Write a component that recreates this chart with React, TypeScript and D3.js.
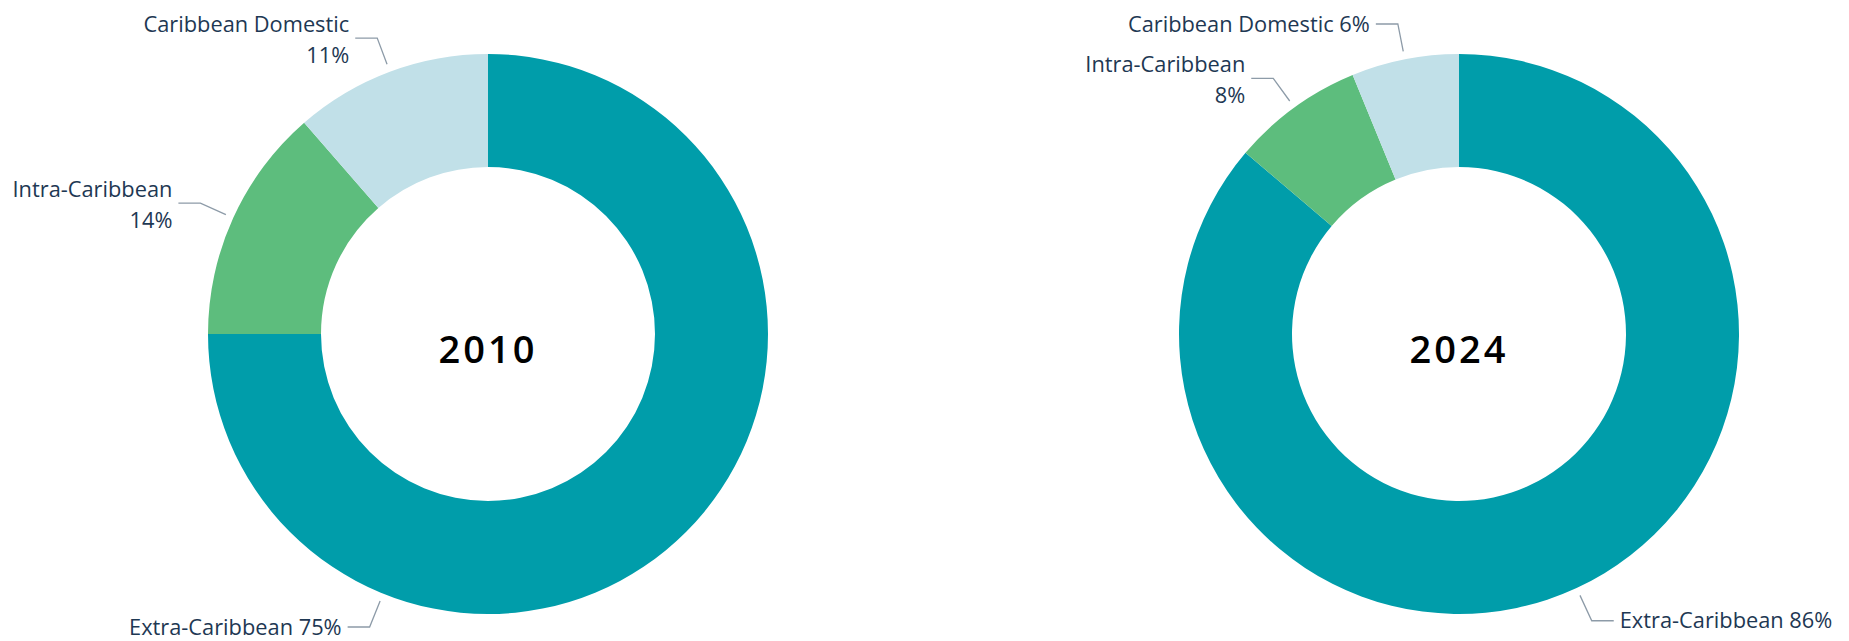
import React from "react";
import * as d3 from "d3";

const categories = ["Extra-Caribbean", "Intra-Caribbean", "Caribbean Domestic"];
const values2010 = [75.0, 13.6, 11.4];
const values2024 = [86.2, 7.6, 6.2];
const labels2010 = ["75%", "14%", "11%"];
const labels2024 = ["86%", "8%", "6%"];
const colors = ["#009DAA", "#5DBD7D", "#C1E0E8"];

// label layout: whether text is on two lines, optional fixed anchor angle (deg clockwise from top)
const layout2010 = [
  { twoLine: false, angle: 202 },
  { twoLine: true, angle: null },
  { twoLine: true, angle: null },
];
const layout2024 = [
  { twoLine: false, angle: null },
  { twoLine: true, angle: null },
  { twoLine: false, angle: null },
];

const W = 1849;
const H = 641;
const R_OUT = 280;
const R_IN = 167;
const FONT = "'Open Sans', 'Noto Sans', sans-serif";
const TEXT_COLOR = "#1E3853";
const LINE_COLOR = "#8D9BA8";

function Donut({ cx, cy, values, pcts, layout, year }) {
  const pie = d3.pie<number>().sort(null).value((d) => d);
  const arcs = pie(values);
  const arc = d3.arc<any>().innerRadius(R_IN).outerRadius(R_OUT);
  const fs = 21.8;
  return (
    <g transform={`translate(${cx},${cy})`}>
      {arcs.map((a, i) => (
        <path key={i} d={arc(a) as string} fill={colors[i]} />
      ))}
      {arcs.map((a, i) => {
        const L = layout[i];
        const ang = L.angle != null ? (L.angle * Math.PI) / 180 : (a.startAngle + a.endAngle) / 2;
        const s = Math.sin(ang);
        const c = -Math.cos(ang);
        const r1 = R_OUT + 8;
        const r2 = R_OUT + 36;
        const x1 = s * r1, y1 = c * r1;
        const x2 = s * r2, y2 = c * r2;
        const dir = s < 0 ? -1 : 1;
        const x3 = x2 + dir * 22;
        const tx = x3 + dir * 6;
        const anchor = dir < 0 ? "end" : "start";
        const lines = L.twoLine ? [categories[i], pcts[i]] : [`${categories[i]} ${pcts[i]}`];
        return (
          <g key={"l" + i}>
            <polyline
              points={`${x1},${y1} ${x2},${y2} ${x3},${y2}`}
              fill="none"
              stroke={LINE_COLOR}
              strokeWidth={1.3}
            />
            {lines.map((t, k) => (
              <text
                key={k}
                x={tx}
                y={L.twoLine ? y2 - 14 + k * 31 : y2}
                dy="0.35em"
                textAnchor={anchor}
                fontFamily={FONT}
                fontSize={fs}
                fill={TEXT_COLOR}
              >
                {t}
              </text>
            ))}
          </g>
        );
      })}
      <text
        x={0}
        y={29}
        textAnchor="middle"
        fontFamily={FONT}
        fontSize={38}
        fontWeight={600}
        letterSpacing={3}
        fill="#000"
      >
        {year}
      </text>
    </g>
  );
}

export default function App() {
  return (
    <svg
      width={W}
      height={H}
      style={{ position: "absolute", left: 0, top: 0, background: "#fff" }}
    >
      <Donut cx={488} cy={334} values={values2010} pcts={labels2010} layout={layout2010} year="2010" />
      <Donut cx={1459} cy={334} values={values2024} pcts={labels2024} layout={layout2024} year="2024" />
    </svg>
  );
}
